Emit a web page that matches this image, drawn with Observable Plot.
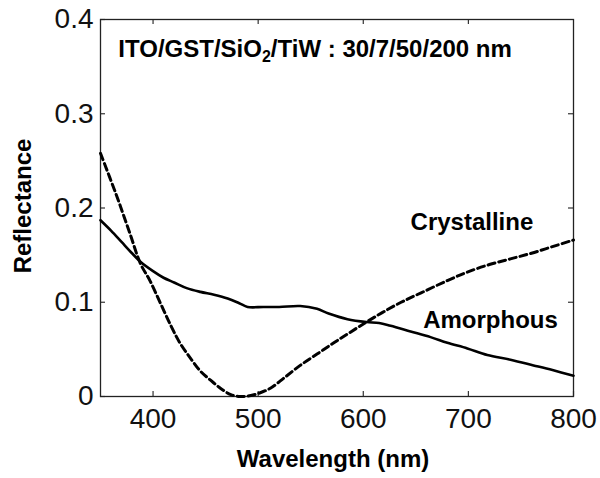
<!DOCTYPE html>
<html>
<head>
<meta charset="utf-8">
<script src="https://cdn.jsdelivr.net/npm/d3@7"></script>
<script src="https://cdn.jsdelivr.net/npm/@observablehq/plot@0.6"></script>
<style>
  html, body { margin: 0; padding: 0; background: #fff; }
  #chart svg { display: block; }
</style>
</head>
<body>
<div id="chart"></div>
<script>
// Amorphous (solid line)
const amorphousWl = [350, 360, 370, 380, 388, 400, 410, 420, 432, 445, 458, 471, 482, 490, 505, 520, 540, 556, 567, 585, 603, 615, 626, 645, 664, 680, 699, 718, 740, 762, 780, 800];
const amorphousR  = [0.187, 0.176, 0.164, 0.152, 0.143, 0.133, 0.126, 0.121, 0.115, 0.111, 0.108, 0.104, 0.099, 0.095, 0.095, 0.095, 0.096, 0.093, 0.088, 0.082, 0.079, 0.078, 0.075, 0.069, 0.063, 0.057, 0.051, 0.044, 0.039, 0.033, 0.028, 0.022];

// Crystalline (dashed line)
const crystallineWl = [350, 365, 378, 388, 397, 407, 417, 426, 436, 445, 455, 465, 474, 483, 493, 502, 512, 525, 540, 556, 572, 586, 603, 618, 636, 655, 680, 699, 720, 740, 760, 780, 800];
const crystallineR  = [0.258, 0.214, 0.173, 0.141, 0.123, 0.099, 0.075, 0.056, 0.040, 0.027, 0.017, 0.008, 0.002, 0.000, 0.001, 0.004, 0.009, 0.020, 0.033, 0.045, 0.057, 0.067, 0.079, 0.089, 0.100, 0.110, 0.123, 0.132, 0.140, 0.146, 0.152, 0.159, 0.166];

const xTicks = [400, 500, 600, 700, 800];
const yTicks = [0, 0.1, 0.2, 0.3, 0.4];
const xTopTicks = [400, 500, 600, 700];
const yRightTicks = [0.1, 0.2, 0.3];

const labelTexts = ["ITO/GST/SiO2/TiW : 30/7/50/200 nm", "Crystalline", "Amorphous"];
const labelX = [367, 645, 657];
const labelY = [0.3597, 0.177, 0.0732];

const amorphous = amorphousWl.map((w, i) => ({wl: w, r: amorphousR[i]}));
const crystalline = crystallineWl.map((w, i) => ({wl: w, r: crystallineR[i]}));
const labels = labelTexts.map((t, i) => ({text: t, x: labelX[i], y: labelY[i]}));

const W = 600, H = 478;
const mT = 19, mB = 82, mL = 100, mR = 27;
const innerH = H - mT - mB;
const innerW = W - mL - mR;
const tickLen = 5;

const plot = Plot.plot({
  width: W,
  height: H,
  marginTop: mT,
  marginBottom: mB,
  marginLeft: mL,
  marginRight: mR,
  style: {fontFamily: "Arial, 'Liberation Sans', sans-serif", background: "#fff", color: "#111"},
  x: {domain: [350, 800]},
  y: {domain: [0, 0.4]},
  marks: [
    Plot.axisX({ticks: xTicks, tickSize: 0, tickPadding: 12, fontSize: 28, tickFormat: d => String(d), label: null, color: "#111"}),
    Plot.axisY({ticks: yTicks, tickSize: 0, tickPadding: 7, fontSize: 28, tickFormat: d => d === 0 ? "0" : d3.format(".1f")(d), label: null, color: "#111"}),
    // inward ticks
    Plot.tickX(xTicks, {x: d => d, insetTop: innerH - tickLen, stroke: "#333", strokeWidth: 1.2}),
    Plot.tickX(xTopTicks, {x: d => d, insetBottom: innerH - tickLen, stroke: "#333", strokeWidth: 1.2}),
    Plot.tickY(yTicks, {y: d => d, insetRight: innerW - tickLen, stroke: "#333", strokeWidth: 1.2}),
    Plot.tickY(yRightTicks, {y: d => d, insetLeft: innerW - tickLen, stroke: "#333", strokeWidth: 1.2}),
    Plot.frame({stroke: "#222", strokeWidth: 1.3}),
    Plot.line(crystalline, {x: "wl", y: "r", stroke: "#000", strokeWidth: 3, strokeDasharray: "7,4", curve: "catmull-rom"}),
    Plot.line(amorphous, {x: "wl", y: "r", stroke: "#000", strokeWidth: 2.6, curve: "catmull-rom"}),
    Plot.text(labels, {x: "x", y: "y", text: "text", textAnchor: "start", lineAnchor: "bottom", fontSize: 24, fontWeight: "bold", fill: "#000"})
  ]
});

// Axis labels as SVG text
const svg = d3.select(plot);
svg.append("text")
  .attr("x", 333)
  .attr("y", 467)
  .attr("text-anchor", "middle")
  .attr("font-size", 24)
  .attr("font-weight", "bold")
  .attr("fill", "#000")
  .text("Wavelength (nm)");
svg.append("text")
  .attr("transform", "translate(31,206) rotate(-90)")
  .attr("text-anchor", "middle")
  .attr("font-size", 24)
  .attr("font-weight", "bold")
  .attr("fill", "#000")
  .text("Reflectance");

// subscript in SiO2
svg.selectAll("text").each(function() {
  const t = d3.select(this);
  if (t.text() === labelTexts[0]) {
    t.text("");
    t.append("tspan").text("ITO/GST/SiO");
    t.append("tspan").attr("font-size", 16).attr("dy", 5).text("2");
    t.append("tspan").attr("dy", -5).text("/TiW : 30/7/50/200 nm");
  }
});

document.getElementById("chart").appendChild(plot);
</script>
</body>
</html>
